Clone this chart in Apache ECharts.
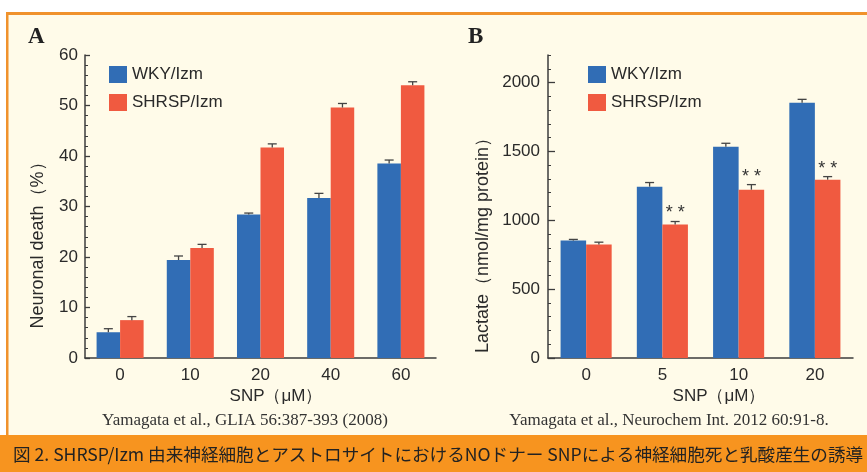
<!DOCTYPE html>
<html>
<head>
<meta charset="utf-8">
<script src="https://cdn.jsdelivr.net/npm/echarts@6/dist/echarts.min.js"></script>
<style>
  html, body { margin: 0; padding: 0; background: #fff; }
  #chart { width: 867px; height: 472px; }
</style>
</head>
<body>
<div id="chart"></div>
<script>
// パネルA: 神経細胞死 (%)
var catsA = ['0', '10', '20', '40', '60'];
var wkyA = [5.1, 19.4, 28.4, 31.7, 38.5];
var wkyErrA = [0.7, 0.8, 0.3, 0.9, 0.7];
var shrspA = [7.5, 21.8, 41.7, 49.6, 54.0];
var shrspErrA = [0.7, 0.7, 0.7, 0.8, 0.7];

// パネルB: 乳酸 (nmol/mg protein)
var catsB = ['0', '5', '10', '20'];
var wkyB = [853, 1244, 1534, 1853];
var wkyErrB = [8, 30, 25, 25];
var shrspB = [824, 969, 1222, 1295];
var shrspErrB = [17, 22, 37, 22];
var sigB = ['', '**', '**', '**'];

var ticksA = [0, 10, 20, 30, 40, 50, 60];
var ticksB = [0, 500, 1000, 1500, 2000];

var BLUE = '#316db5';
var RED = '#f05a40';
var AXIS = '#3c3c3c';
var TXT = '#2a2a2a';
var SANS = '"Liberation Sans", Arial, sans-serif';
var SERIF = '"Liberation Serif", "Times New Roman", serif';

function errData(vals, errs) {
    return vals.map(function (v, i) { return [i, v, errs[i]]; });
}

// エラーバー (上側のみ) と有意差マーク
function errRender(side, sig) {
    return function (params, api) {
        var i = api.value(0), v = api.value(1), e = api.value(2);
        var band = api.size([1, 0])[0];
        var off = side * band * 0.67 / 4;
        var base = api.coord([i, v]);
        var top = api.coord([i, v + e]);
        var x = base[0] + off;
        var children = [
            { type: 'line', shape: { x1: x, y1: base[1], x2: x, y2: top[1] },
              style: { stroke: '#444', lineWidth: 1.3 } },
            { type: 'line', shape: { x1: x - 4.5, y1: top[1], x2: x + 4.5, y2: top[1] },
              style: { stroke: '#444', lineWidth: 1.3 } }
        ];
        if (sig && sig[params.dataIndex]) {
            children.push({ type: 'text', style: {
                text: sig[params.dataIndex].split('').join(' '), x: x, y: top[1] - 8,
                align: 'center', verticalAlign: 'middle',
                font: '18px ' + SANS, fill: '#333' } });
        }
        return { type: 'group', children: children };
    };
}

var chart = echarts.init(document.getElementById('chart'), null, { renderer: 'canvas' });

var catAxis = function (grid, data) {
    return {
        type: 'category', gridIndex: grid, data: data,
        axisLine: { lineStyle: { color: AXIS, width: 1.5 } },
        axisTick: { inside: true, length: 6, lineStyle: { color: AXIS, width: 1.3 } },
        axisLabel: { color: TXT, fontSize: 17, fontFamily: SANS, margin: 9 },
        splitLine: { show: false }
    };
};

var plain = function (v) { return String(v); };

var option = {
    backgroundColor: '#fff',
    animation: false,
    graphic: [
        { type: 'rect', z: -10, shape: { x: 7, y: 13, width: 870, height: 430 },
          style: { fill: '#fffbe9' } },
        { type: 'rect', z: -9, shape: { x: 7, y: 12, width: 870, height: 3 },
          style: { fill: '#f0922c' } },
        { type: 'rect', z: -9, shape: { x: 6, y: 12, width: 2.5, height: 430 },
          style: { fill: '#f0922c' } },
        { type: 'rect', z: -9, shape: { x: 0, y: 435, width: 867, height: 37 },
          style: { fill: '#f7941f' } },
        { type: 'text', style: { text: '図 2. SHRSP/Izm 由来神経細胞とアストロサイトにおけるNOドナー SNPによる神経細胞死と乳酸産生の誘導',
            x: 13, y: 454, verticalAlign: 'middle', font: '17.6px "Noto Sans CJK JP", sans-serif', fill: '#222' } },
        { type: 'text', style: { text: 'A', x: 28, y: 37, verticalAlign: 'middle',
            font: 'bold 23px ' + SERIF, fill: '#222' } },
        { type: 'text', style: { text: 'B', x: 468, y: 37, verticalAlign: 'middle',
            font: 'bold 23px ' + SERIF, fill: '#222' } },
        { type: 'text', rotation: Math.PI / 2, x: 38, y: 241, style: { text: 'Neuronal death（%）',
            align: 'center', verticalAlign: 'middle', font: '18px ' + SANS, fill: TXT } },
        { type: 'text', rotation: Math.PI / 2, x: 483, y: 241, style: { text: 'Lactate（nmol/mg protein）',
            align: 'center', verticalAlign: 'middle', font: '18px ' + SANS, fill: TXT } },
        { type: 'text', style: { text: 'SNP（μM）', x: 276, y: 396, align: 'center',
            verticalAlign: 'middle', font: '17px ' + SANS, fill: TXT } },
        { type: 'text', style: { text: 'SNP（μM）', x: 719, y: 396, align: 'center',
            verticalAlign: 'middle', font: '17px ' + SANS, fill: TXT } },
        { type: 'text', style: { text: 'Yamagata et al., GLIA 56:387-393 (2008)', x: 245, y: 421,
            align: 'center', verticalAlign: 'middle', font: '17px ' + SERIF, fill: '#333' } },
        { type: 'text', style: { text: 'Yamagata et al., Neurochem Int. 2012 60:91-8.', x: 669, y: 421,
            align: 'center', verticalAlign: 'middle', font: '17px ' + SERIF, fill: '#333' } }
    ],
    legend: [
        { left: 109, top: 66, orient: 'vertical', itemWidth: 18, itemHeight: 17, itemGap: 11,
          padding: 0, icon: 'rect', data: ['WKY/Izm', 'SHRSP/Izm'],
          textStyle: { color: TXT, fontSize: 17, fontFamily: SANS } },
        { left: 588, top: 66, orient: 'vertical', itemWidth: 18, itemHeight: 17, itemGap: 11,
          padding: 0, icon: 'rect', data: ['WKY/Izm', 'SHRSP/Izm'],
          textStyle: { color: TXT, fontSize: 17, fontFamily: SANS } }
    ],
    grid: [
        { left: 85, top: 55, width: 351, height: 303 },
        { left: 548, top: 55, width: 305, height: 303 }
    ],
    xAxis: [catAxis(0, catsA), catAxis(1, catsB)],
    yAxis: [
        { type: 'value', gridIndex: 0, min: 0, max: 60, interval: 10,
          axisLine: { show: true, lineStyle: { color: AXIS, width: 1.5 } },
          axisTick: { show: true, inside: true, length: 5, lineStyle: { color: AXIS, width: 1.3 } },
          minorTick: { show: true, splitNumber: 5, length: 3, lineStyle: { color: AXIS, width: 1 } },
          axisLabel: { color: TXT, fontSize: 17, fontFamily: SANS, margin: 7,
              customValues: ticksA, formatter: plain },
          splitLine: { show: false } },
        { type: 'value', gridIndex: 1, min: 0, max: 2200, position: 'left', offset: 0,
          axisLine: { show: true, lineStyle: { color: AXIS, width: 1.5 } },
          axisTick: { show: true, inside: true, length: 7, customValues: ticksB,
              lineStyle: { color: AXIS, width: 1.3 } },
          axisLabel: { color: TXT, fontSize: 17, fontFamily: SANS, margin: 8,
              customValues: ticksB, formatter: plain },
          splitLine: { show: false } },
        // 副目盛 (100 ごと)
        { type: 'value', gridIndex: 1, min: 0, max: 2200, interval: 100,
          position: 'left', offset: 0,
          axisLine: { show: false },
          axisTick: { show: true, inside: true, length: 3, lineStyle: { color: AXIS, width: 1 } },
          axisLabel: { show: false },
          splitLine: { show: false } }
    ],
    series: [
        { name: 'WKY/Izm', type: 'bar', xAxisIndex: 0, yAxisIndex: 0, data: wkyA,
          barGap: 0, barCategoryGap: '33%', itemStyle: { color: BLUE } },
        { name: 'SHRSP/Izm', type: 'bar', xAxisIndex: 0, yAxisIndex: 0, data: shrspA,
          barGap: 0, barCategoryGap: '33%', itemStyle: { color: RED } },
        { name: 'WKY/Izm', type: 'bar', xAxisIndex: 1, yAxisIndex: 1, data: wkyB,
          barGap: 0, barCategoryGap: '33%', itemStyle: { color: BLUE } },
        { name: 'SHRSP/Izm', type: 'bar', xAxisIndex: 1, yAxisIndex: 1, data: shrspB,
          barGap: 0, barCategoryGap: '33%', itemStyle: { color: RED } },
        { name: 'errWA', type: 'custom', xAxisIndex: 0, yAxisIndex: 0, z: 5,
          renderItem: errRender(-1), data: errData(wkyA, wkyErrA) },
        { name: 'errSA', type: 'custom', xAxisIndex: 0, yAxisIndex: 0, z: 5,
          renderItem: errRender(1), data: errData(shrspA, shrspErrA) },
        { name: 'errWB', type: 'custom', xAxisIndex: 1, yAxisIndex: 1, z: 5,
          renderItem: errRender(-1), data: errData(wkyB, wkyErrB) },
        { name: 'errSB', type: 'custom', xAxisIndex: 1, yAxisIndex: 1, z: 5,
          renderItem: errRender(1, sigB), data: errData(shrspB, shrspErrB) }
    ]
};

chart.setOption(option);
</script>
</body>
</html>
